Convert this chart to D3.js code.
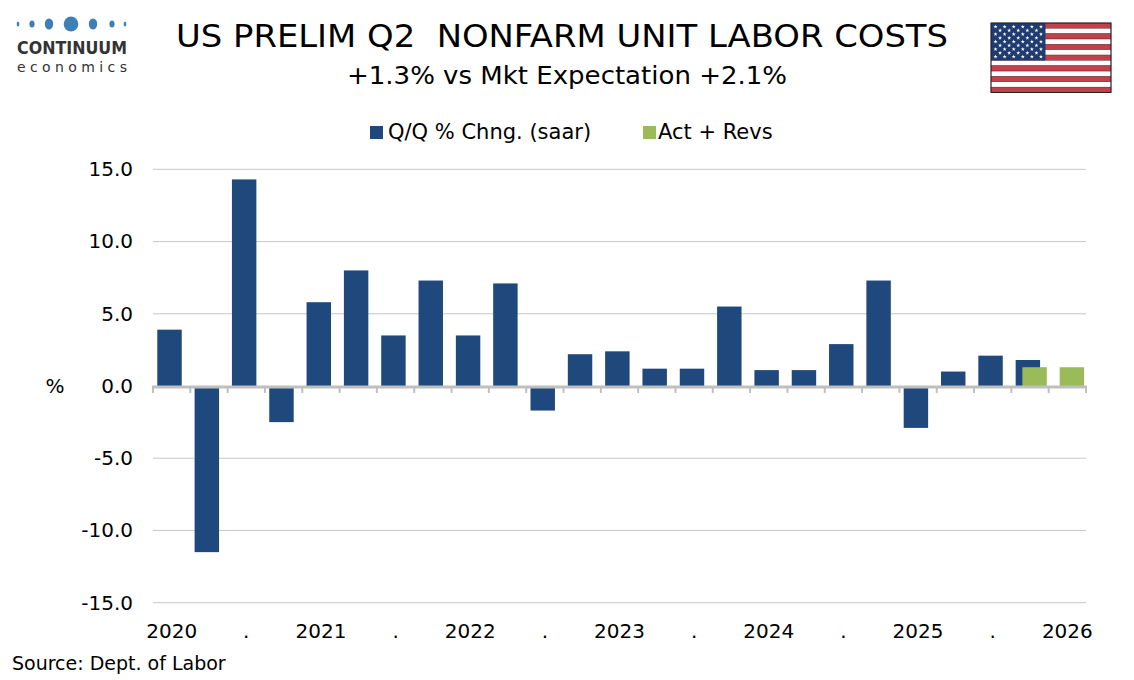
<!DOCTYPE html>
<html>
<head>
<meta charset="utf-8">
<title>US Prelim Q2 Nonfarm Unit Labor Costs</title>
<script src="https://cdn.jsdelivr.net/npm/d3@7"></script>
<style>
  body { margin: 0; background: #fff; }
  svg { display: block; }
  text { font-family: "DejaVu Sans", Verdana, sans-serif; fill: #000; }
</style>
</head>
<body>
<script>
// categories (one per quarter) and the labels Excel shows under them
var quarters = ["2020Q1","2020Q2","2020Q3","2020Q4","2021Q1","2021Q2","2021Q3","2021Q4",
                "2022Q1","2022Q2","2022Q3","2022Q4","2023Q1","2023Q2","2023Q3","2023Q4",
                "2024Q1","2024Q2","2024Q3","2024Q4","2025Q1","2025Q2","2025Q3","2025Q4","2026Q1"];
var axisLabels = ["2020","",".","","2021","",".","","2022","",".","","2023","",".","",
                  "2024","",".","","2025","",".","","2026"];

// Q/Q % change (saar)
var qoq = [3.9, -11.5, 14.3, -2.5, 5.8, 8.0, 3.5, 7.3, 3.5, 7.1, -1.7, 2.2, 2.4, 1.2, 1.2, 5.5,
           1.1, 1.1, 2.9, 7.3, -2.9, 1.0, 2.1, 1.8, null];
// actual + revisions
var actRevs = [null, null, null, null, null, null, null, null, null, null, null, null, null, null,
               null, null, null, null, null, null, null, null, null, 1.3, 1.3];

var yTicks = [-15, -10, -5, 0, 5, 10, 15];

var width = 1134, height = 680;
var blue = "#1F497D", green = "#9BBB59", grey = "#BFBFBF";

var svg = d3.select("body").append("svg")
    .attr("width", width)
    .attr("height", height);

var x = d3.scaleBand().domain(quarters).range([153, 1086]).padding(0);
var y = d3.scaleLinear().domain([-15, 15]).range([602.7, 169.3]);
var bw = x.bandwidth();

// gridlines
svg.append("g").selectAll("line")
    .data(yTicks.filter(function(d) { return d !== 0; }))
    .enter().append("line")
    .attr("x1", 153).attr("x2", 1086)
    .attr("y1", function(d) { return y(d); })
    .attr("y2", function(d) { return y(d); })
    .attr("stroke", "#C8C8C8").attr("stroke-width", 1);

// y labels
var yAxis = svg.append("g")
    .attr("transform", "translate(153,0)")
    .call(d3.axisLeft(y).tickValues(yTicks).tickSize(0).tickPadding(20)
        .tickFormat(function(d) { return d.toFixed(1); }));
yAxis.select(".domain").remove();
yAxis.selectAll("text")
    .style("font-family", "'DejaVu Sans', Verdana, sans-serif")
    .style("font-size", "20px")
    .attr("fill", "#000");

// bars
var bars = svg.append("g");
bars.selectAll("rect.qoq")
    .data(quarters.filter(function(q, i) { return qoq[i] !== null; }))
    .enter().append("rect")
    .attr("class", "qoq")
    .attr("x", function(q) { return x(q) + bw * 0.115; })
    .attr("width", bw * 0.655)
    .attr("y", function(q) { var v = qoq[quarters.indexOf(q)]; return y(Math.max(0, v)); })
    .attr("height", function(q) { var v = qoq[quarters.indexOf(q)]; return Math.abs(y(v) - y(0)); })
    .attr("fill", blue);

bars.selectAll("rect.rev")
    .data(quarters.filter(function(q, i) { return actRevs[i] !== null; }))
    .enter().append("rect")
    .attr("class", "rev")
    .attr("x", function(q) { return x(q) + bw * 0.295; })
    .attr("width", bw * 0.655)
    .attr("y", function(q) { var v = actRevs[quarters.indexOf(q)]; return y(Math.max(0, v)); })
    .attr("height", function(q) { var v = actRevs[quarters.indexOf(q)]; return Math.abs(y(v) - y(0)); })
    .attr("fill", green);

// category axis at zero
var y0 = y(0);
svg.append("line")
    .attr("x1", 152).attr("x2", 1087)
    .attr("y1", y0 + 1).attr("y2", y0 + 1)
    .attr("stroke", grey).attr("stroke-width", 3);
svg.append("g").selectAll("line")
    .data(quarters.concat(["end"]))
    .enter().append("line")
    .attr("x1", function(q) { return q === "end" ? 1086 : x(q); })
    .attr("x2", function(q) { return q === "end" ? 1086 : x(q); })
    .attr("y1", y0).attr("y2", y0 + 7)
    .attr("stroke", grey).attr("stroke-width", 2);

svg.append("g").selectAll("text")
    .data(quarters)
    .enter().append("text")
    .attr("x", function(q) { return x(q) + bw / 2; })
    .attr("y", 638)
    .attr("text-anchor", "middle")
    .style("font-size", "20px")
    .text(function(q, i) { return axisLabels[i]; });

svg.append("text")
    .attr("x", 55).attr("y", 393)
    .attr("text-anchor", "middle")
    .style("font-size", "20px")
    .text("%");

// legend
var legend = svg.append("g");
legend.append("rect").attr("x", 370).attr("y", 126).attr("width", 13).attr("height", 13).attr("fill", blue);
legend.append("text").attr("x", 388).attr("y", 139).style("font-size", "21px").text("Q/Q % Chng. (saar)");
legend.append("rect").attr("x", 643).attr("y", 126).attr("width", 13).attr("height", 13).attr("fill", green);
legend.append("text").attr("x", 658).attr("y", 139).style("font-size", "21px").text("Act + Revs");

// titles
svg.append("text")
    .attr("x", 176).attr("y", 47)
    .attr("textLength", 772).attr("lengthAdjust", "spacingAndGlyphs")
    .style("white-space", "pre")
    .style("font-family", "'DejaVu Sans Condensed', 'DejaVu Sans', sans-serif")
    .style("font-size", "32px")
    .text("US PRELIM Q2  NONFARM UNIT LABOR COSTS");
svg.append("text")
    .attr("x", 347).attr("y", 84)
    .attr("textLength", 440).attr("lengthAdjust", "spacingAndGlyphs")
    .style("font-family", "'DejaVu Sans Condensed', 'DejaVu Sans', sans-serif")
    .style("font-size", "25px")
    .text("+1.3% vs Mkt Expectation +2.1%");

svg.append("text")
    .attr("x", 12).attr("y", 670)
    .style("font-size", "19px")
    .text("Source: Dept. of Labor");

// logo
var logo = svg.append("g");
var dots = [[18, 1.3, 2.5], [32, 2.6, 3.6], [49, 4.2, 5.6], [71, 7.3, 7.6], [93, 4.2, 5.6], [112, 2.6, 3.6], [125, 1.3, 2.5]];
logo.selectAll("ellipse")
    .data(dots)
    .enter().append("ellipse")
    .attr("cx", function(d) { return d[0]; })
    .attr("cy", 24)
    .attr("rx", function(d) { return d[1]; })
    .attr("ry", function(d) { return d[2]; })
    .attr("fill", "#3F7FB8");
logo.append("text")
    .attr("x", 17).attr("y", 54)
    .attr("textLength", 110).attr("lengthAdjust", "spacingAndGlyphs")
    .style("font-family", "'DejaVu Sans Condensed', 'DejaVu Sans', sans-serif")
    .style("font-weight", "bold")
    .style("font-size", "17px")
    .style("fill", "#333")
    .text("CONTINUUM");
logo.append("text")
    .attr("x", 17).attr("y", 72)
    .attr("textLength", 110).attr("lengthAdjust", "spacing")
    .style("font-size", "14px")
    .style("fill", "#333")
    .text("economics");

// flag
var flag = svg.append("g").attr("transform", "translate(991,23)");
var fw = 120, fh = 69.5, stripe = fh / 13;
flag.selectAll("rect.stripe")
    .data(d3.range(13))
    .enter().append("rect")
    .attr("x", 0).attr("width", fw)
    .attr("y", function(i) { return i * stripe; })
    .attr("height", stripe)
    .attr("fill", function(i) { return i % 2 ? "#fff" : "#C1414A"; })
    .attr("stroke", "#5a1a1f").attr("stroke-width", 0.4);
flag.append("rect").attr("width", 54.5).attr("height", stripe * 7).attr("fill", "#1F3B70");
var stars = [];
d3.range(9).forEach(function(r) {
    var n = r % 2 ? 5 : 6;
    d3.range(n).forEach(function(j) {
        stars.push([(r % 2 ? 2 * j + 2 : 2 * j + 1) * 54.5 / 12, (r + 1) * stripe * 7 / 10]);
    });
});
flag.selectAll("path.star")
    .data(stars)
    .enter().append("path")
    .attr("transform", function(d) { return "translate(" + d[0] + "," + d[1] + ")"; })
    .attr("d", d3.symbol(d3.symbolStar, 5))
    .attr("fill", "#fff");
flag.append("rect").attr("width", fw).attr("height", fh)
    .attr("fill", "none").attr("stroke", "#222").attr("stroke-width", 1);
</script>
</body>
</html>
